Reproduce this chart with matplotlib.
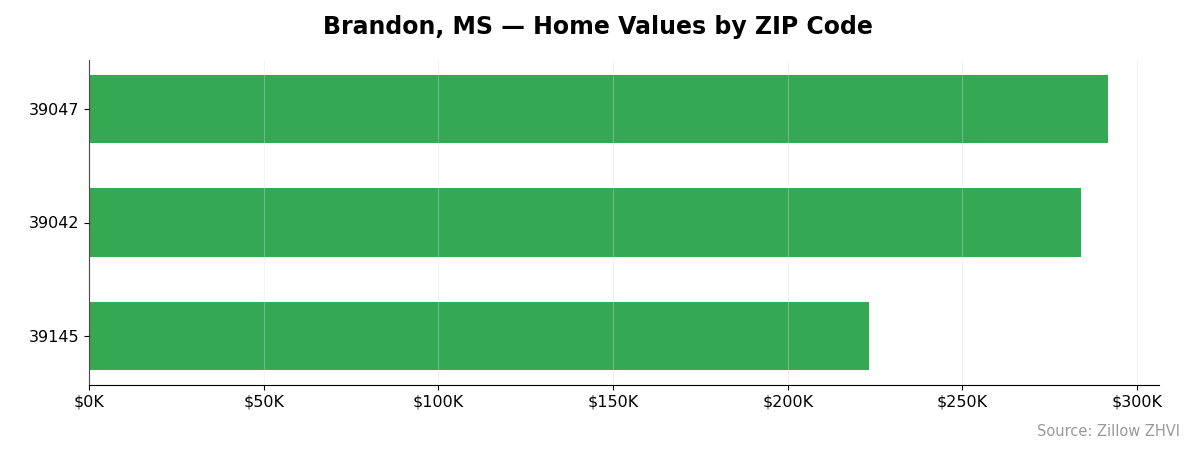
import matplotlib
matplotlib.use("Agg")
import matplotlib.pyplot as plt
from matplotlib.ticker import FuncFormatter

zips = ["39145", "39042", "39047"]
values = [223300, 284000, 291700]

fig = plt.figure(figsize=(11.95, 4.55), dpi=100)
ax = fig.add_axes([89/1195, 1-385/455, (1159-89)/1195, (385-60)/455])
ax.barh(zips, values, height=0.6, color="#34a853", zorder=2)
ax.set_xlim(0, max(values)*1.05)
ax.set_ylim(-0.43, 2.43)
ax.xaxis.set_major_formatter(FuncFormatter(lambda v, p: f"${v/1000:.0f}K"))
ax.set_xticks(range(0, 300001, 50000))
ax.grid(axis="x", color="#dddddd", alpha=0.35, zorder=3)
ax.set_axisbelow(False)
for s in ["top", "right"]:
    ax.spines[s].set_visible(False)
for s in ["left", "bottom"]:
    ax.spines[s].set_color("black")
ax.tick_params(labelsize=11.5)
fig.text(0.5, 1-27/455, "Brandon, MS — Home Values by ZIP Code", ha="center", va="center",
         fontsize=17, fontweight="bold")
fig.text(1180/1195, 1-432/455, "Source: Zillow ZHVI", ha="right", va="center",
         fontsize=10.5, color="#999999")
fig.savefig("out.png", dpi=100)
